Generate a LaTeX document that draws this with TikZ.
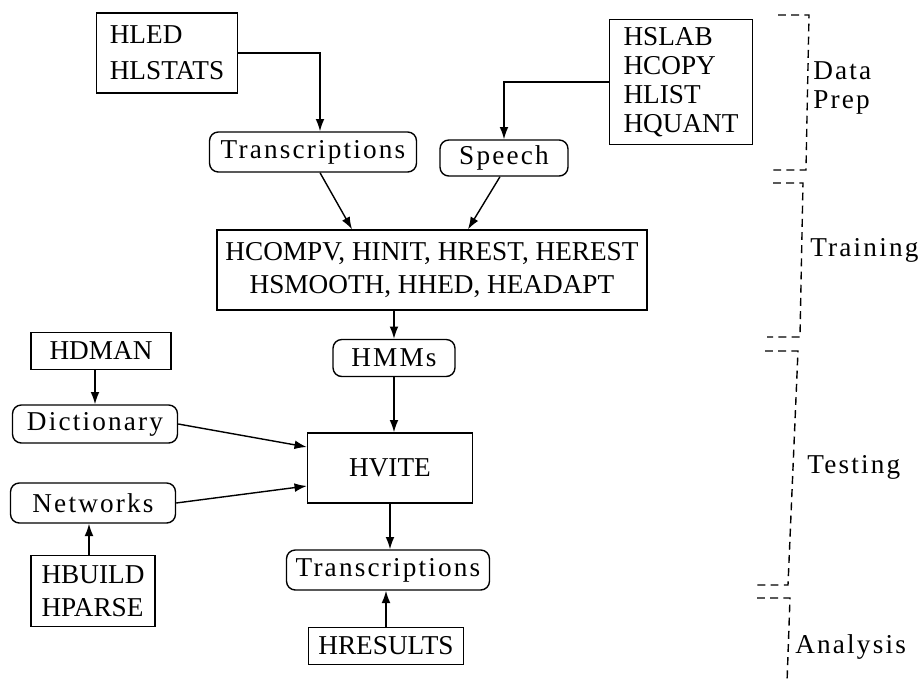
\documentclass[tikz,border=0pt]{standalone}
\usepackage{fontspec}
\setmainfont{Liberation Serif}
\newfontfamily\spacedfont[LetterSpace=8]{Liberation Serif}
\usetikzlibrary{arrows.meta, positioning, calc}

\tikzset{
  tool/.style={draw, line width=0.8pt, inner sep=0pt, align=left, font=\fontsize{15.5}{18.6}\selectfont},
  data/.style={draw, line width=0.8pt, rounded corners=5pt, inner sep=0pt, font=\spacedfont\fontsize{15.5}{18.6}\selectfont},
  link/.style={line width=0.8pt, -{Latex[length=7pt,width=5pt]}},
  phase/.style={line width=0.8pt, dash pattern=on 4.5pt off 3pt},
  phaselabel/.style={right, align=left, inner sep=0pt, font=\spacedfont\fontsize{15.5}{16}\selectfont},
}

\begin{document}
\begin{tikzpicture}[x=0.02cm, y=-0.02cm]
			\useasboundingbox (0,0) rectangle (921,683);
			% data preparation
			\node[tool, minimum width=2.82cm, minimum height=1.6cm] (hled) at (167,53) {HLED\\[2pt]HLSTATS};
			\node[tool, minimum width=2.86cm, minimum height=2.5cm, font=\fontsize{15.5}{16.5}\selectfont] (hslab) at (681,82) {HSLAB\\HCOPY\\HLIST\\HQUANT};
			\node[data, minimum width=4.14cm, minimum height=0.8cm] (trans) at (313,152) {Transcriptions};
			\node[data, minimum width=2.56cm, minimum height=0.72cm] (speech) at (504,158) {Speech};
			% training
			\node[tool, align=center, minimum width=8.6cm, minimum height=1.6cm] (train) at (432,270) {HCOMPV, HINIT, HREST, HEREST\\HSMOOTH, HHED, HEADAPT};
			\node[data, minimum width=2.44cm, minimum height=0.74cm] (hmms) at (394,358) {HMMs};
			% testing
			\node[tool, minimum width=2.8cm, minimum height=0.74cm] (hdman) at (101,351) {HDMAN};
			\node[data, minimum width=3.3cm, minimum height=0.76cm] (dict) at (95,424) {Dictionary};
			\node[tool, minimum width=3.3cm, minimum height=1.4cm] (hvite) at (390,468) {HVITE};
			\node[data, minimum width=3.3cm, minimum height=0.8cm] (netw) at (93,503) {Networks};
			\node[tool, minimum width=2.48cm, minimum height=1.42cm] (hbuild) at (93,591) {HBUILD\\HPARSE};
			% analysis
			\node[data, minimum width=4.06cm, minimum height=0.8cm] (trans2) at (388,570) {Transcriptions};
			\node[tool, minimum width=3.1cm, minimum height=0.74cm] (hresults) at (386,646) {HRESULTS};
			% connectors
			\draw[link] (hled.east) -| ([xshift=0.14cm]trans.north);
			\draw[link] (hslab.west) -| (speech.north);
			\draw[link] ([xshift=0.14cm]trans.south) -- ([xshift=-1.6cm]train.north);
			\draw[link] ([xshift=-0.08cm]speech.south) -- ([xshift=0.72cm]train.north);
			\draw[link] (train.south -| hmms.north) -- (hmms.north);
			\draw[link] (hmms.south) -- (hmms.south |- hvite.north);
			\draw[link] (hdman.south -| dict.north) -- (dict.north);
			\draw[link] (dict.east) -- ([yshift=0.42cm]hvite.west);
			\draw[link] (netw.east) -- ([yshift=-0.36cm]hvite.west);
			\draw[link] ([xshift=-0.08cm]hbuild.north) -- ([xshift=-0.08cm]hbuild.north |- netw.south);
			\draw[link] (hvite.south) -- (hvite.south |- trans2.north);
			\draw[link] (hresults.north) -- (hresults.north |- trans2.south);
			% phases
			\draw[phase] (778,15) -- (809,15) -- (806,170) -- (772,170);
			\node[phaselabel] (prep) at (813,88) {Data\\Prep};
			\draw[phase] (773,183) -- (803,183) -- (800,337) -- (767,337);
			\node[phaselabel] (training) at (810,250) {Training};
			\draw[phase] (765,351) -- (798,351) -- (788,585) -- (757,585);
			\node[phaselabel] (testing) at (807,467) {Testing};
			\draw[phase] (757,598) -- (790,598) -- (787,683);
			\node[phaselabel] (analysis) at (795,647) {Analysis};
		\end{tikzpicture}
\end{document}
